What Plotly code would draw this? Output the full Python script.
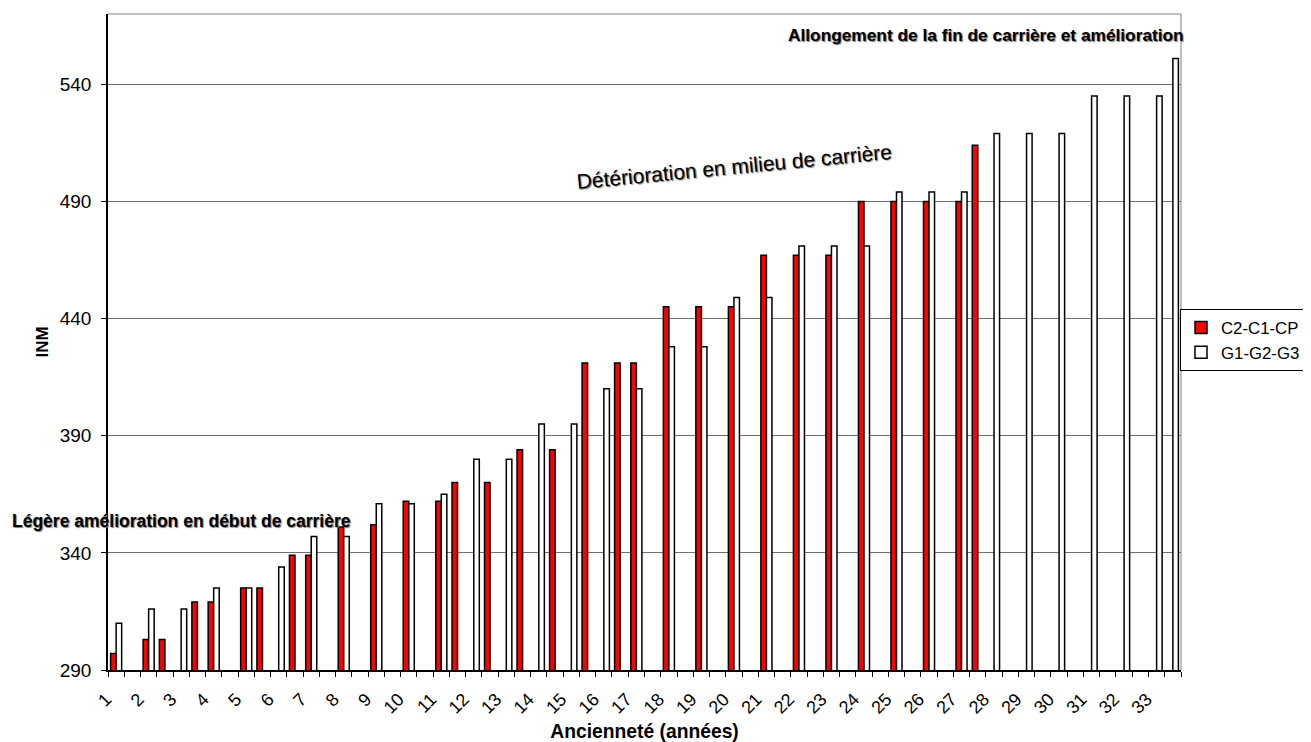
import plotly.graph_objects as go

# Ancienneté in half-year steps (1, 1.5, 2, ... 33.5)
anciennete = [1 + 0.5 * k for k in range(66)]

N = None
c2_c1_cp = [297, N, 303, 303, N, 319, 319, N, 325, 325,
            N, 339, 339, N, 351, N, 352, N, 362, N,
            362, 370, N, 370, N, 384, N, 384, N, 421,
            N, 421, 421, N, 445, N, 445, N, 445, N,
            467, N, 467, N, 467, N, 490, N, 490, N,
            490, N, 490, 514, N, N, N, N, N, N,
            N, N, N, N, N, N]
g1_g2_g3 = [310, N, 316, N, 316, N, 325, N, 325, N,
            334, N, 347, N, 347, N, 361, N, 361, N,
            365, N, 380, N, 380, N, 395, N, 395, N,
            410, N, 410, N, 428, N, 428, N, 449, N,
            449, N, 471, N, 471, N, 471, N, 494, N,
            494, N, 494, N, 519, N, 519, N, 519, N,
            535, N, 535, N, 535, 551]

tick_years = list(range(1, 34))
tick_labels = [str(y) for y in tick_years]
y_ticks = [290, 340, 390, 440, 490, 540]

FONT = "Liberation Sans, Arial, sans-serif"

fig = go.Figure()
fig.add_trace(go.Bar(x=anciennete, y=c2_c1_cp, name="C2-C1-CP",
                     marker=dict(color="#FF0000", line=dict(color="black", width=1.5))))
fig.add_trace(go.Bar(x=anciennete, y=g1_g2_g3, name="G1-G2-G3",
                     marker=dict(color="white", line=dict(color="black", width=1.5))))

# plot area in window pixels (page body adds an 8px offset)
L, R, T, B = 108, 1181, 14, 670
OFF = 8
W, H = 1311 - OFF, 742 - OFF


def px(xp):
    return (xp - L) / (R - L)


def py(yp):
    return (B - yp) / (B - T)


SHADOW = "1px 1px 1px #777777"
annos = [
    dict(text="<b>Allongement de la fin de carrière et amélioration</b>", x=px(986), y=py(35),
         font=dict(size=17.3, family=FONT, color="black", shadow=SHADOW), textangle=0),
    dict(text="Détérioration en milieu de carrière", x=px(734), y=py(166),
         font=dict(size=21, family=FONT, color="black", shadow=SHADOW), textangle=-5.5),
    dict(text="<b>Légère amélioration en début de carrière</b>", x=px(181), y=py(521),
         font=dict(size=17.5, family=FONT, color="black", shadow=SHADOW), textangle=0),
]
for a in annos:
    fig.add_annotation(text=a["text"], x=a["x"], y=a["y"], xref="paper", yref="paper",
                       showarrow=False, xanchor="center", yanchor="middle",
                       textangle=a["textangle"], font=a["font"])

fig.update_layout(
    width=W, height=H,
    margin=dict(l=L - OFF, r=W - (R - OFF), t=T - OFF, b=H - (B - OFF), autoexpand=False),
    paper_bgcolor="white", plot_bgcolor="white",
    barmode="group", bargap=0.32, bargroupgap=0.0,
    font=dict(family=FONT, size=16, color="black"),
    showlegend=True,
    legend=dict(x=px(1180), y=py(309), xanchor="left", yanchor="top",
                bordercolor="black", borderwidth=1, bgcolor="white",
                font=dict(size=16.8, family=FONT), itemwidth=30,
                tracegroupgap=0),
)

fig.update_xaxes(
    range=[0.75, 33.75], tickmode="array", tickvals=tick_years,
    ticktext=tick_labels,
    tickangle=-45, ticks="", showgrid=False, zeroline=False,
    showline=True, linecolor="black", linewidth=1.5,
    tickfont=dict(size=18, family=FONT), ticklabelstandoff=10, ticklabelshift=-10,
    minor=dict(tick0=0.75, dtick=0.5, ticks="outside", ticklen=5, tickcolor="black", showgrid=False),
    title=dict(text="<b>Ancienneté (années)</b>", font=dict(size=19.3, family=FONT), standoff=14),
)
fig.update_yaxes(
    range=[290, 570], tickmode="array", tickvals=y_ticks,
    ticks="outside", ticklen=5, tickcolor="black",
    showgrid=True, gridcolor="#707070", gridwidth=1,
    zeroline=False, showline=True, linecolor="black", linewidth=1.5,
    tickfont=dict(size=19, family=FONT), ticklabelstandoff=6,
    title=dict(text="<b>INM</b>", font=dict(size=17, family=FONT), standoff=7),
)
# gray frame on top and right of plot area
fig.add_shape(type="line", xref="paper", yref="paper", x0=0, x1=1, y0=1, y1=1,
              line=dict(color="#808080", width=1))
fig.add_shape(type="line", xref="paper", yref="paper", x0=1, x1=1, y0=0, y1=1,
              line=dict(color="#808080", width=1))

fig.write_html("out.html")
